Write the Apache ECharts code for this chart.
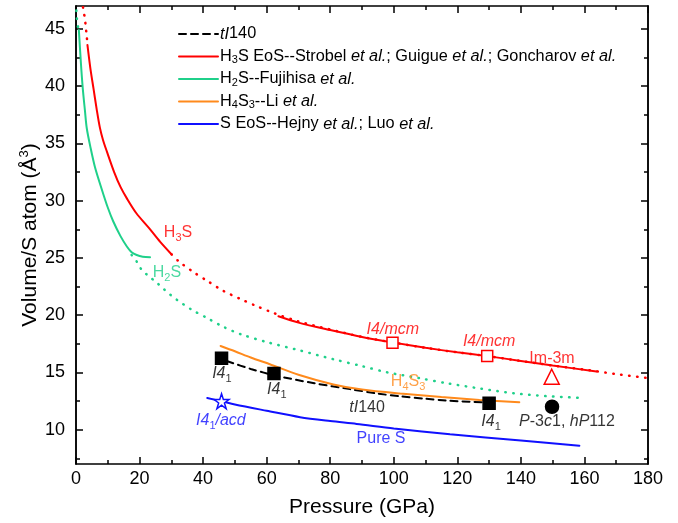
<!DOCTYPE html>
<html>
<head>
<meta charset="utf-8">
<script src="https://cdn.jsdelivr.net/npm/echarts@6/dist/echarts.min.js"></script>
<style>
  html, body { margin: 0; padding: 0; background: #fff; }
  #chart { width: 678px; height: 523px; }
</style>
</head>
<body>
<div id="chart"></div>
<script>
// colours used in the figure
const RED = '#ff0000';
const GREEN = '#1fd08a';
const ORANGE = '#ff8a1c';
const BLUE = '#1010ff';

// axis ticks
const xTicks = [0, 20, 40, 60, 80, 100, 120, 140, 160, 180];
const yMajor = [10, 15, 20, 25, 30, 35, 40, 45];
const yMinor = [7.5, 12.5, 17.5, 22.5, 27.5, 32.5, 37.5, 42.5];

// H3S EoS (low pressure solid part)
const h3sP = [3.6, 4.5, 5.5, 6.5, 7.5, 8.5, 9.7, 12, 14, 16, 19, 23, 26.5, 30.1];
const h3sV = [43.6, 41.6, 39.8, 38.0, 36.4, 35.3, 34.3, 32.5, 31.2, 30.2, 28.9, 27.6, 26.4, 25.3];
// H3S I4/mcm solid part
const h3sHiP = [63.7, 70, 80, 90, 100, 110, 120, 130, 140, 150, 163.8];
const h3sHiV = [19.9, 19.35, 18.7, 18.1, 17.6, 17.15, 16.75, 16.4, 16.0, 15.6, 15.08];
// H3S dotted extrapolations
const h3sTopP = [1.9, 2.3, 2.8, 3.1, 3.4, 3.6];
const h3sTopV = [47.6, 46.7, 45.9, 45.1, 44.3, 43.6];
const h3sExtP = [30.1, 32.2, 36.7, 41.6, 46.3, 51.6, 56.9, 62.1, 70, 80, 90, 100, 110, 120, 130, 140, 150, 160, 170, 180];
const h3sExtV = [25.31, 24.73, 23.81, 22.94, 22.13, 21.43, 20.78, 20.2, 19.45, 18.75, 18.1, 17.6, 17.15, 16.75, 16.4, 16.0, 15.6, 15.25, 14.85, 14.5];

// H2S Fujihisa
const h2sP = [0.9, 1.5, 2.1, 2.8, 3.4, 4.6, 6.0, 8.1, 10, 11.7, 14, 16, 17.5, 19.1, 21, 23.3];
const h2sV = [44.9, 42.2, 39.9, 37.9, 36.3, 34.6, 32.9, 31.0, 29.4, 28.2, 26.9, 26.0, 25.5, 25.25, 25.1, 25.05];
const h2sTopP = [0, 0.2, 0.5, 0.9];
const h2sTopV = [47.3, 46.2, 45.35, 44.9];
const h2sExtP = [17.5, 19.1, 20.7, 22.8, 25.2, 27.3, 29.6, 31.7, 36.4, 41.6, 46.6, 52.1, 60, 70, 81, 90, 98, 108, 117, 127, 138, 148, 160];
const h2sExtV = [25.25, 24.68, 23.95, 23.43, 22.88, 22.36, 21.8, 21.35, 20.48, 19.7, 18.95, 18.31, 17.65, 16.95, 16.15, 15.55, 15.0, 14.5, 14.04, 13.6, 13.17, 12.93, 12.76];

// H4S3 Li
const h4s3P = [45.5, 50, 55, 61, 70, 81, 90, 102, 115, 127, 139.5];
const h4s3V = [17.31, 16.85, 16.3, 15.71, 14.8, 13.95, 13.5, 13.15, 12.85, 12.6, 12.4];

// tI140 dashed
const ti140P = [47.4, 55, 63.2, 75, 86.2, 95, 102, 110, 116.6, 128.2];
const ti140V = [16.0, 15.3, 14.7, 14.05, 13.54, 13.15, 12.91, 12.7, 12.54, 12.39];

// S EoS
const sP = [41.3, 45.8, 50, 60, 70.5, 80, 88.3, 100, 117.7, 140, 158.4];
const sV = [12.76, 12.48, 12.2, 11.65, 11.09, 10.75, 10.5, 10.1, 9.59, 9.05, 8.6];

// markers
const i41P = [45.8, 62.3, 130];
const i41V = [16.23, 14.9, 12.3];
const mcmP = [99.6, 129.4];
const mcmV = [17.59, 16.44];
const im3mP = [149.7];
const im3mV = [14.62];
const acdP = [45.8];
const acdV = [12.48];
const hp112P = [149.8];
const hp112V = [12.0];

// text labels: pressure, volume, text, colour
const notes = [
    [32.1, 27.2, 'H{sub|3}S', RED],
    [28.6, 23.75, 'H{sub|2}S', GREEN],
    [99.7, 18.7, '{i|I4/mcm}', RED],
    [130, 17.7, '{i|I4/mcm}', RED],
    [149.8, 16.2, 'Im-3m', RED],
    [104.5, 14.2, 'H{sub|4}S{sub|3}', ORANGE],
    [91.6, 11.95, '{i|tI}140', '#000'],
    [45.9, 14.9, '{i|I4}{sub|1}', '#000'],
    [63.2, 13.5, '{i|I4}{sub|1}', '#000'],
    [130.6, 10.74, '{i|I4}{sub|1}', '#000'],
    [154.5, 10.74, '{i|P}-3{i|c}1, {i|hP}112', '#000'],
    [45.6, 10.8, '{i|I4}{sub|1}{i|/acd}', BLUE],
    [96, 9.18, 'Pure S', BLUE]
];

const legendText = {
    'tI140': '{i|tI}140',
    'H3S': 'H{sub|3}S EoS--Strobel {i|et al.}; Guigue {i|et al.}; Goncharov {i|et al.}',
    'H2S': 'H{sub|2}S--Fujihisa {i|et al.}',
    'H4S3': 'H{sub|4}S{sub|3}--Li {i|et al.}',
    'S': 'S EoS--Hejny {i|et al.}; Luo {i|et al.}'
};

const FONT = 'Liberation Sans';
const rich = {
    i: { fontStyle: 'italic' },
    sub: { fontSize: 11, verticalAlign: 'bottom', padding: [0, 0, -3, 0] }
};
const legendRich = {
    i: { fontStyle: 'italic', lineHeight: 18 },
    sub: { fontSize: 11, verticalAlign: 'bottom', lineHeight: 14 }
};

function pts(xs, ys) {
    return xs.map((x, i) => [x, ys[i]]);
}

function line(name, xs, ys, color, type, width) {
    return {
        name: name,
        type: 'line',
        data: pts(xs, ys),
        symbol: 'none',
        smooth: 0.3,
        lineStyle: { color: color, width: width || 2, type: type || 'solid', cap: 'round' },
        itemStyle: { color: color },
        silent: true,
        z: type === 'solid' || !type ? 3 : 2
    };
}

const dots = [0.5, 7.5];

function marker(xs, ys, symbol, size, fill, stroke) {
    return {
        type: 'scatter',
        data: pts(xs, ys),
        symbol: symbol,
        symbolSize: size,
        itemStyle: { color: fill, borderColor: stroke, borderWidth: 1.5, opacity: 1 },
        silent: true,
        z: 5
    };
}

const star = 'path://M50,0 L61.8,35.3 L98.9,35.3 L68.9,57.1 L80.3,92.5 L50,70.6 L19.7,92.5 L31.1,57.1 L1.1,35.3 L38.2,35.3 Z';

const axisLine = { lineStyle: { color: '#000', width: 1.5 } };
const tickStyle = { lineStyle: { color: '#000', width: 1.5 } };

function yAxis(pos, values, len, labels) {
    return {
        type: 'value',
        min: 7,
        max: 47,
        position: pos,
        axisLine: Object.assign({ show: true }, axisLine),
        axisTick: Object.assign({ inside: true, length: len, customValues: values }, tickStyle),
        axisLabel: labels
            ? { show: true, customValues: values, fontSize: 18, color: '#000', fontFamily: FONT, margin: 11 }
            : { show: false },
        splitLine: { show: false }
    };
}

function xAxis(pos, labels) {
    return {
        type: 'value',
        min: 0,
        max: 180,
        interval: 20,
        position: pos,
        axisLine: Object.assign({ show: true }, axisLine),
        axisTick: Object.assign({ inside: true, length: 7 }, tickStyle),
        minorTick: { show: true, splitNumber: 2, length: 4, lineStyle: { color: '#000', width: 1.5 } },
        axisLabel: labels
            ? { show: true, fontSize: 18, color: '#000', fontFamily: FONT, margin: 6,
                formatter: v => (xTicks.indexOf(v) >= 0 ? String(v) : '') }
            : { show: false },
        splitLine: { show: false }
    };
}

const xMain = xAxis('bottom', true);
xMain.name = 'Pressure (GPa)';
xMain.nameLocation = 'middle';
xMain.nameGap = 33;
xMain.nameMoveOverlap = false;
xMain.nameTextStyle = { fontSize: 21, color: '#000', fontFamily: FONT, verticalAlign: 'top' };

const yMain = yAxis('left', yMajor, 7, true);
yMain.name = 'Volume/S atom (Å{sup|3})';
yMain.nameLocation = 'middle';
yMain.nameGap = 35;
yMain.nameRotate = 90;
yMain.nameMoveOverlap = false;
yMain.nameTextStyle = {
    fontSize: 21, color: '#000', fontFamily: FONT,
    rich: { sup: { fontSize: 13, verticalAlign: 'top', padding: [-2, 0, 0, 0] } }
};

const option = {
    animation: false,
    backgroundColor: '#fff',
    textStyle: { fontFamily: FONT },
    grid: { left: 76, right: 30, top: 6, bottom: 56 },
    xAxis: [xMain, xAxis('top', false)],
    yAxis: [
        yMain,
        yAxis('left', yMinor, 4, false),
        yAxis('right', yMajor, 7, false),
        yAxis('right', yMinor, 4, false)
    ],
    legend: {
        data: ['tI140', 'H3S', 'H2S', 'H4S3', 'S'],
        orient: 'vertical',
        left: 173,
        top: 20,
        itemWidth: 39,
        itemHeight: 12,
        itemGap: 4.5,
        selectedMode: false,
        itemStyle: { opacity: 0 },
        formatter: name => legendText[name],
        textStyle: {
            fontSize: 16.3, color: '#000', fontFamily: FONT, lineHeight: 18, height: 18,
            padding: [0, 0, 0, -3], rich: legendRich
        }
    },
    series: [
        line('h3sTop', h3sTopP, h3sTopV, RED, dots, 2.5),
        line('h3sExt', h3sExtP, h3sExtV, RED, dots, 2.5),
        line('h2sTop', h2sTopP, h2sTopV, GREEN, dots, 2.5),
        line('h2sExt', h2sExtP, h2sExtV, GREEN, dots, 2.5),
        line('tI140', ti140P, ti140V, '#000', [7, 5], 2),
        line('H3S', h3sP, h3sV, RED),
        line('H3S', h3sHiP, h3sHiV, RED),
        line('H2S', h2sP, h2sV, GREEN),
        line('H4S3', h4s3P, h4s3V, ORANGE),
        line('S', sP, sV, BLUE),
        marker(i41P, i41V, 'rect', 12, '#000', '#000'),
        marker(mcmP, mcmV, 'rect', 11, '#fff', RED),
        marker(im3mP, im3mV, 'triangle', 15, '#fff', RED),
        marker(acdP, acdV, star, 15, '#fff', BLUE),
        marker(hp112P, hp112V, 'circle', 13, '#000', '#000'),
        {
            type: 'scatter',
            silent: true,
            symbolSize: 1,
            itemStyle: { color: 'rgba(0,0,0,0)' },
            z: 6,
            data: notes.map(n => ({
                value: [n[0], n[1]],
                name: n[2],
                label: { color: n[3] }
            })),
            label: {
                show: true,
                position: 'inside',
                align: 'center',
                verticalAlign: 'middle',
                fontSize: 16,
                fontFamily: FONT,
                formatter: p => p.name,
                rich: rich
            }
        }
    ]
};

echarts.init(document.getElementById('chart')).setOption(option);
</script>
</body>
</html>
